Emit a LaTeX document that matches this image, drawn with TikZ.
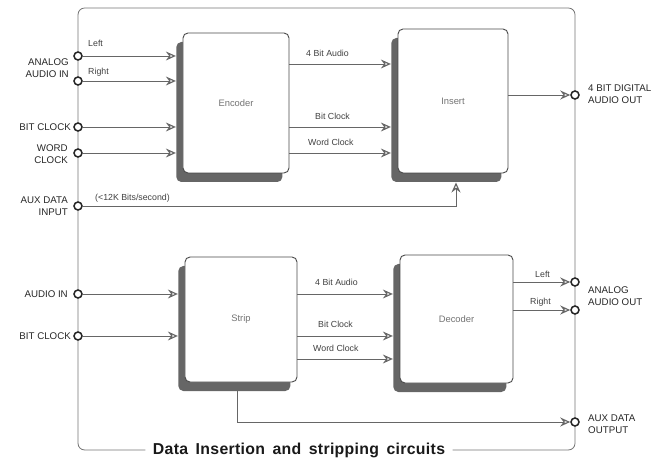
\documentclass[tikz,border=0pt]{standalone}
\usepackage{fontspec}
\setmainfont{Liberation Sans}
\newfontfamily\ttlfont[LetterSpace=2,WordSpace=1.6]{Liberation Sans}
\usetikzlibrary{arrows.meta,shadows}
\begin{document}
\begin{tikzpicture}[x={(0.03cm,0cm)},y={(0cm,-0.03cm)},
  blk/.style={draw=black!70, line width=0.8pt, fill=white, rounded corners=0.15cm, inner sep=0pt, font=\fontsize{8}{9}\selectfont, text=black!55, drop shadow={shadow xshift=-0.2cm, shadow yshift=-0.27cm, fill=black!60, opacity=1}},
  port/.style={circle, draw=black!85, line width=1.3pt, fill=white, inner sep=0pt, minimum size=0.24cm},
  plbl/.style={font=\fontsize{8.3}{10.5}\selectfont, text=black!85, inner sep=0pt},
  slbl/.style={font=\fontsize{7.5}{9}\selectfont, text=black!75, inner sep=0pt, anchor=base west},
  sig/.style={draw=black!60, line width=0.7pt, -{Stealth[open, length=0.3cm, width=0.27cm, inset=0.1cm, line width=1pt]}},
  into/.style={shorten >=0.2cm},
  frame/.style={draw=black!55, line width=0.7pt, rounded corners=0.2cm}]
\useasboundingbox (0,0) rectangle (667,461);

% blocks
\node[blk, minimum width=3.18cm, minimum height=4.2cm] (enc) at (236,103) {Encoder};
\node[blk, minimum width=3.3cm, minimum height=4.32cm] (ins) at (453,101) {Insert};
\node[blk, minimum width=3.36cm, minimum height=3.75cm] (stp) at (241,319.5) {Strip};
\node[blk, minimum width=3.39cm, minimum height=3.84cm] (dec) at (456.5,319) {Decoder};

% frame
\node[inner xsep=0.22cm, inner ysep=0pt, font=\ttlfont\bfseries\fontsize{13.5}{16}\selectfont, text=black!90] (ttl) at (299,450) {Data Insertion and stripping circuits};
\draw[frame] (ttl.west) -| (78,8) -| (575,450) -- (ttl.east);

% ports
\node[port] (ail) at (78,56) {};
\node[port] (air) at (78,81) {};
\node[port] (bc1) at (78,127) {};
\node[port] (wc1) at (78,153) {};
\node[port] (adi) at (78,206) {};
\node[port] (ain) at (78,294) {};
\node[port] (bc2) at (78,336) {};
\node[port] (dao) at (575,95) {};
\node[port] (aol) at (575,282) {};
\node[port] (aor) at (575,310) {};
\node[port] (ado) at (575,422) {};

\node[plbl, anchor=east, align=right] (l-ai) at (69,68.5) {ANALOG\\AUDIO IN};
\node[plbl, anchor=east] (l-bc1) at (71,127) {BIT CLOCK};
\node[plbl, anchor=east, align=right] (l-wc) at (68,154) {WORD\\CLOCK};
\node[plbl, anchor=east, align=right] (l-adi) at (68,206) {AUX DATA\\INPUT};
\node[plbl, anchor=east] (l-ain) at (68,294) {AUDIO IN};
\node[plbl, anchor=east] (l-bc2) at (71,336) {BIT CLOCK};
\node[plbl, anchor=west, align=left] (l-dao) at (588,94) {4 BIT DIGITAL\\AUDIO OUT};
\node[plbl, anchor=west, align=left] (l-ao) at (588,296) {ANALOG\\AUDIO OUT};
\node[plbl, anchor=west, align=left] (l-ado) at (588,424.5) {AUX DATA\\OUTPUT};

% insertion side
\draw[sig,into] (ail) -- (ail -| enc.west);
\draw[sig,into] (air) -- (air -| enc.west);
\draw[sig,into] (bc1) -- (bc1 -| enc.west);
\draw[sig,into] (wc1) -- (wc1 -| enc.west);
\draw[sig,into] (enc.east |- 0,64) -- (ins.west |- 0,64);
\draw[sig,into] (enc.east |- bc1) -- (ins.west |- bc1);
\draw[sig,into] (enc.east |- wc1) -- (ins.west |- wc1);
\draw[sig,shorten >=0.27cm] (adi) -| ([xshift=0.09cm]ins.south);
\draw[sig] (ins.east |- dao) -- (dao);

\node[slbl] (t-l1) at (88,47) {Left};
\node[slbl] (t-r1) at (88,75) {Right};
\node[slbl] (t-a1) at (306,57) {4 Bit Audio};
\node[slbl] (t-b1) at (315,120) {Bit Clock};
\node[slbl] (t-w1) at (308,146) {Word Clock};
\node[slbl] (t-rate) at (95,201) {(<12K Bits/second)};

% stripping side
\draw[sig,into] (ain) -- (ain -| stp.west);
\draw[sig,into] (bc2) -- (bc2 -| stp.west);
\draw[sig,into] (stp.east |- ain) -- (dec.west |- ain);
\draw[sig,into] (stp.east |- bc2) -- (dec.west |- bc2);
\draw[sig,into] (stp.east |- 0,359) -- (dec.west |- 0,359);
\draw[sig] (dec.east |- aol) -- (aol);
\draw[sig] (dec.east |- aor) -- (aor);
\draw[sig,shorten <=0.27cm] ([xshift=-0.12cm]stp.south) |- (ado);

\node[slbl] (t-a2) at (315,286) {4 Bit Audio};
\node[slbl] (t-b2) at (318,328) {Bit Clock};
\node[slbl] (t-w2) at (313,352) {Word Clock};
\node[slbl] (t-l2) at (535,278) {Left};
\node[slbl] (t-r2) at (530,305) {Right};
\end{tikzpicture}
\end{document}
